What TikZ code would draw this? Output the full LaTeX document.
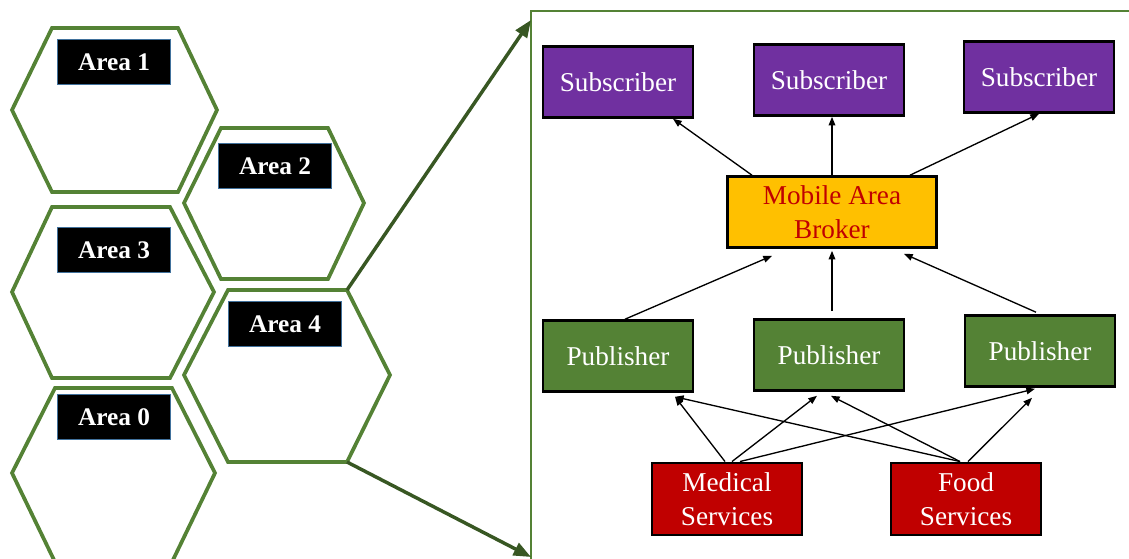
\documentclass[tikz,border=0pt]{standalone}
\usepackage{fontspec}
\setmainfont{Liberation Serif}
\usetikzlibrary{arrows.meta,calc}

\begin{document}
\begin{tikzpicture}[x=0.75pt,y=0.75pt,yscale=-1,xscale=1,
  hexcell/.style={draw={rgb, 255:red, 84; green, 130; blue, 53 }, line width=2.8pt},
  arealbl/.style={draw={rgb, 255:red, 65; green, 113; blue, 156 }, line width=0.8pt, fill=black, text=white, font=\fontsize{19}{23}\selectfont\bfseries, minimum width=84.75pt, minimum height=33.75pt, inner sep=0pt},
  zoomarrow/.style={draw={rgb, 255:red, 56; green, 87; blue, 35 }, line width=2.6pt, -{Triangle[length=13pt,width=10pt]}},
  blk/.style={draw=black, line width=2.2pt, minimum width=112.5pt, minimum height=53pt, inner sep=0pt, align=center, font=\fontsize{20.4}{25.5}\selectfont},
  subbox/.style={blk, fill={rgb, 255:red, 112; green, 48; blue, 160 }, text=white},
  pubbox/.style={blk, fill={rgb, 255:red, 84; green, 130; blue, 53 }, text=white},
  srvbox/.style={blk, fill={rgb, 255:red, 192; green, 0; blue, 0 }, text=white, minimum height=54pt},
  brokerbox/.style={blk, fill={rgb, 255:red, 255; green, 192; blue, 0 }, text={rgb, 255:red, 192; green, 0; blue, 0 }, minimum width=156.75pt},
  flow/.style={draw=black, line width=1pt, -{Triangle[length=6.5pt,width=5pt]}}
]
\useasboundingbox (0,0) rectangle (1129,558);
\clip (0,0) rectangle (1129,558);

% area cells
\draw [hexcell] (52,28) -- (178,28) -- (217,110) -- (178,192) -- (52,192) -- (12,110) -- cycle ;
\draw [hexcell] (221,128) -- (328,128) -- (364,203) -- (328,279) -- (221,279) -- (184,203) -- cycle ;
\draw [hexcell] (52,207) -- (170,207) -- (214,292) -- (170,378) -- (52,378) -- (12,292) -- cycle ;
\draw [hexcell] (228,290) -- (347,290) -- (390,375) -- (347,462) -- (228,462) -- (184,375) -- cycle ;
\draw [hexcell] (55,388) -- (172,388) -- (215,473) -- (172,562) -- (55,562) -- (12,473) -- cycle ;

\node [arealbl] (a1) at (114,62) {Area 1};
\node [arealbl] (a2) at (275,166) {Area 2};
\node [arealbl] (a3) at (114,250) {Area 3};
\node [arealbl] (a4) at (285,324) {Area 4};
\node [arealbl] (a0) at (114,417) {Area 0};

% zoom frame
\coordinate (h4ne) at (347,290);
\coordinate (h4se) at (347,462);
\coordinate (frtop) at (531,20);
\coordinate (frbot) at (531,557);
\draw [draw={rgb, 255:red, 84; green, 130; blue, 53 }, line width=1.2pt] (531,562) -- (531,11) -- (1132,11) ;
\draw [zoomarrow] (h4ne) -- (frtop) ;
\draw [zoomarrow] (h4se) -- (frbot) ;

% broker network
\node [subbox] (sub1) at (618,82) {Subscriber};
\node [subbox] (sub2) at (829,80) {Subscriber};
\node [subbox] (sub3) at (1039,77) {Subscriber};
\node [brokerbox] (broker) at (832,212) {Mobile Area\\Broker};
\node [pubbox] (pub1) at (618,356) {Publisher};
\node [pubbox] (pub2) at (829,355) {Publisher};
\node [pubbox] (pub3) at (1040,351) {Publisher};
\node [srvbox] (med) at (727,499) {Medical\\Services};
\node [srvbox] (food) at (966,499) {Food\\Services};

\draw [flow] ($(broker.north)+(-80,0)$) -- ($(sub1.south)+(55,0)$) ;
\draw [flow] (broker.north) -- (broker.north |- sub2.south) ;
\draw [flow] ($(broker.north)+(78,0)$) -- (sub3.south) ;

\draw [flow] ($(pub1.north)+(7,0)$) -- ($(broker.south)+(-60,7)$) ;
\draw [flow] ($(pub2.north)+(3,-7)$) -- ($(broker.south)+(0,2)$) ;
\draw [flow] ($(pub3.north)+(-4,-2)$) -- ($(broker.south)+(72,5)$) ;

\draw [flow] ($(med.north)+(-2,0)$) -- ($(pub1.south)+(57,4)$) ;
\draw [flow] ($(med.north)+(5,0)$) -- ($(pub2.south)+(-12,4)$) ;
\draw [flow] ($(med.north)+(13,0)$) -- ($(pub3.south)+(-5,1)$) ;
\draw [flow] ($(food.north)+(-6,0)$) -- ($(pub1.south)+(57,4)$) ;
\draw [flow] ($(food.north)+(-6,0)$) -- ($(pub2.south)+(2,4)$) ;
\draw [flow] ($(food.north)+(2,0)$) -- ($(pub3.south)+(-8,10)$) ;

\end{tikzpicture}
\end{document}
